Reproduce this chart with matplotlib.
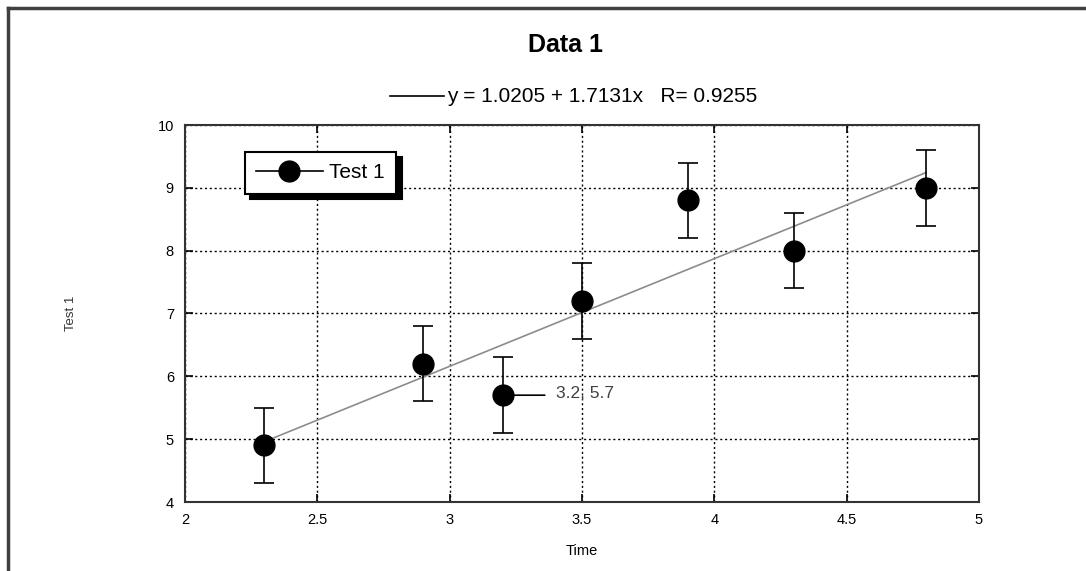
import matplotlib
matplotlib.use("Agg")
import matplotlib.pyplot as plt
from matplotlib.lines import Line2D
import numpy as np

plt.rcParams["font.family"] = ["Liberation Sans", "DejaVu Sans"]

time = [2.3, 2.9, 3.2, 3.5, 3.9, 4.3, 4.8]
test1 = [4.9, 6.2, 5.7, 7.2, 8.8, 8.0, 9.0]
test1_err = [0.6, 0.6, 0.6, 0.6, 0.6, 0.6, 0.6]
fit_a, fit_b, fit_r = 1.0205, 1.7131, 0.9255
x_ticks = [2, 2.5, 3, 3.5, 4, 4.5, 5]
x_tick_labels = ["2", "2.5", "3", "3.5", "4", "4.5", "5"]
y_ticks = [4, 5, 6, 7, 8, 9, 10]

W, H = 1086, 571
fig = plt.figure(figsize=(W / 100, H / 100), dpi=100)
ax = fig.add_axes([185 / W, 1 - 502 / H, (979 - 185) / W, (502 - 125) / H])

ax.errorbar(time, test1, yerr=test1_err, fmt="o", color="black", ms=15,
            ecolor="black", elinewidth=1.2, capsize=7, capthick=1.2, zorder=3)

fit_x = np.array([min(time), max(time)])
ax.plot(fit_x, fit_a + fit_b * fit_x, color="0.55", lw=1.2, zorder=2)

# point label
i = 2
ax.annotate("", xy=(time[i], test1[i]), xytext=(time[i] + 0.17, test1[i]),
            arrowprops=dict(arrowstyle="-", color="black", lw=1.2))
ax.text(time[i] + 0.2, test1[i] + 0.03, f"{time[i]}, {test1[i]}",
        fontsize=12.5, va="center", ha="left", color="0.25")

ax.set_xlim(2, 5)
ax.set_ylim(4, 10)
ax.set_xticks(x_ticks)
ax.set_xticklabels(x_tick_labels)
ax.set_yticks(y_ticks)
ax.tick_params(direction="in", length=6, width=1.2, labelsize=10.5, top=True, right=True,
               pad=8)
ax.grid(True, color="black", ls=(0, (1.5, 2)), lw=1.0)
for s in ax.spines.values():
    s.set_linewidth(1.5)
    s.set_color("0.2")
ax.set_xlabel("Time", fontsize=10.5, labelpad=12)
ax.set_ylabel("Test 1", fontsize=9.5, labelpad=58, color="0.2")

# legend with drop shadow
leg = ax.legend([Line2D([], [], color="black", marker="o", ms=15, lw=1.2)], ["Test 1"],
                loc="upper left", bbox_to_anchor=(0.062, 0.957), fontsize=15,
                fancybox=False, shadow={"color": "black", "alpha": 1.0, "ox": 4, "oy": -4},
                edgecolor="black", framealpha=1, handlelength=3.2, borderpad=0.55,
                handletextpad=0.3)
leg.get_frame().set_linewidth(1.5)

fig.text(565 / W, 1 - 45 / H, "Data 1", fontsize=18, fontweight="bold",
         ha="center", va="center")
fig.add_artist(Line2D([390 / W, 444 / W], [1 - 96 / H, 1 - 96 / H], color="black", lw=1.2))
fig.text(447 / W, 1 - 96 / H, f"y = {fit_a} + {fit_b}x   R= {fit_r}", fontsize=15,
         ha="left", va="center")

# outer frame (top and left edges visible)
fig.add_artist(Line2D([8 / W, 1], [1 - 8 / H, 1 - 8 / H], color="0.25", lw=2.5))
fig.add_artist(Line2D([8 / W, 8 / W], [0, 1 - 8 / H], color="0.25", lw=2.5))

fig.savefig("out.png", dpi=100)
